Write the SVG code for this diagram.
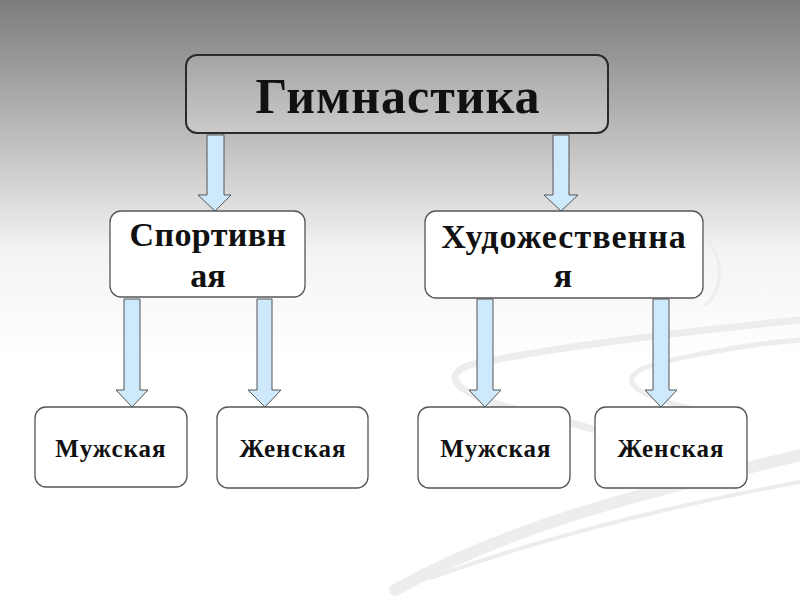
<svg xmlns="http://www.w3.org/2000/svg" width="800" height="600" viewBox="0 0 800 600">
<defs>
<linearGradient id="bg" x1="0" y1="0" x2="0" y2="1">
<stop offset="0" stop-color="#7c7c7c"/>
<stop offset="0.42" stop-color="#f4f4f4"/>
<stop offset="0.6" stop-color="#ffffff"/>
<stop offset="1" stop-color="#ffffff"/>
</linearGradient>
<linearGradient id="topfill" x1="0" y1="0" x2="0" y2="1">
<stop offset="0" stop-color="#a4a4a4"/>
<stop offset="1" stop-color="#cbcbcb"/>
</linearGradient>
<style>
.box{fill:#ffffff;stroke:#555;stroke-width:1.3}
.top{fill:url(#topfill);stroke:#2a2a2a;stroke-width:2}
.arrow{fill:#cde9fb;stroke:#555;stroke-width:1}
.t{font-family:"Liberation Serif","Times New Roman",serif;font-weight:bold;fill:#111;text-anchor:middle}
.swirl{fill:none;stroke:#ededed;stroke-linecap:round}
</style>
</defs>
<rect x="0" y="0" width="800" height="600" fill="url(#bg)"/>
<g id="decor">
<path class="swirl" d="M395 590 C520 520 660 490 800 455" stroke-width="12"/>
<path class="swirl" d="M430 578 C560 532 690 502 800 482" stroke-width="4" stroke="#f2f2f2"/>
<path class="swirl" d="M800 320 C700 330 560 345 470 365 C440 375 455 395 520 410 C600 430 660 445 690 470" stroke-width="7"/>
<path class="swirl" d="M800 340 C740 345 660 360 640 370 C615 385 650 400 700 410" stroke-width="5"/>
<path class="swirl" d="M700 235 C725 250 725 290 705 305" stroke-width="3" stroke="#f0f0f0"/>
</g>
<g id="connectors">
<path class="arrow" d="M207 135 H224 V195 H231 L215 211 L198 195 H207 Z"/>
<path class="arrow" d="M553 135 H569 V195 H578 L561 211 L544 195 H553 Z"/>
<path class="arrow" d="M124 299 H140 V390 H148 L132 407 L116 390 H124 Z"/>
<path class="arrow" d="M257 299 H272 V390 H281 L265 407 L248 390 H257 Z"/>
<path class="arrow" d="M477 299 H493 V390 H501 L485 407 L469 390 H477 Z"/>
<path class="arrow" d="M653 299 H669 V390 H677 L661 407 L645 390 H653 Z"/>
</g>
<g id="gym">
<rect class="top" x="186" y="55" width="422" height="78" rx="11"/>
<text class="t" x="398" y="113" font-size="50" letter-spacing="1">Гимнастика</text>
</g>
<g id="sport">
<rect class="box" x="110" y="211" width="195" height="86" rx="11"/>
<text class="t" x="208" y="246" font-size="34" letter-spacing="0.4">Спортивн</text>
<text class="t" x="208" y="287" font-size="34">ая</text>
</g>
<g id="art">
<rect class="box" x="425" y="211" width="278" height="87" rx="11"/>
<text class="t" x="564" y="248" font-size="34" letter-spacing="1">Художественна</text>
<text class="t" x="563" y="287" font-size="34">я</text>
</g>
<g id="sport-m">
<rect class="box" x="35" y="407" width="152" height="80" rx="11"/>
<text class="t" x="111" y="457" font-size="25" letter-spacing="1">Мужская</text>
</g>
<g id="sport-f">
<rect class="box" x="217" y="407" width="151" height="81" rx="11"/>
<text class="t" x="293" y="457" font-size="25" letter-spacing="1">Женская</text>
</g>
<g id="art-m">
<rect class="box" x="418" y="407" width="152" height="81" rx="11"/>
<text class="t" x="496" y="457" font-size="25" letter-spacing="1">Мужская</text>
</g>
<g id="art-f">
<rect class="box" x="595" y="407" width="152" height="81" rx="11"/>
<text class="t" x="671" y="457" font-size="25" letter-spacing="1">Женская</text>
</g>
</svg>
